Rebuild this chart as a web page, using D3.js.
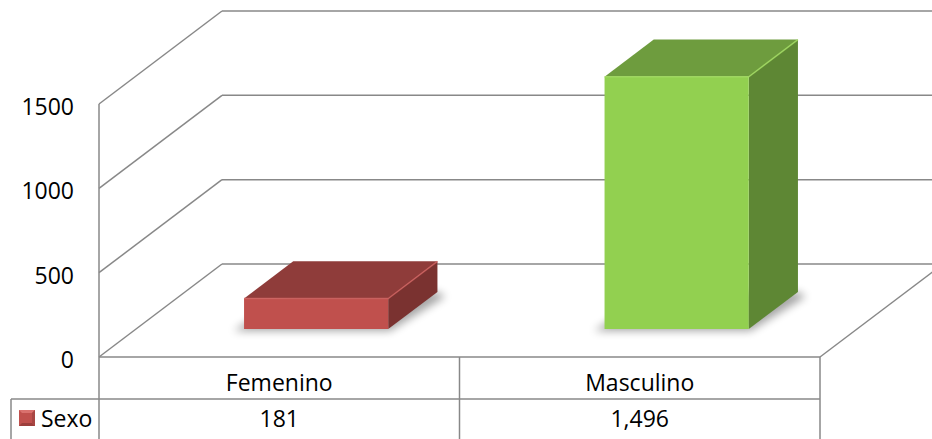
<!DOCTYPE html>
<html>
<head>
<meta charset="utf-8">
<script src="https://cdn.jsdelivr.net/npm/d3@7"></script>
<style>
  body { margin: 0; background: #fff; }
  text { font-family: "Open Sans", sans-serif; fill: #000; }
</style>
</head>
<body>
<svg id="chart" width="932" height="439"></svg>
<script>
const categories = ["Femenino", "Masculino"];
const values = [181, 1496];
const valueLabels = ["181", "1,496"];
const seriesName = "Sexo";
const tickValues = [0, 500, 1000, 1500];

const svg = d3.select("#chart");
const fontSize = 23;

// oblique depth offset of the 3D box
const DX = 123, DY = -93;
const barZ = [0.3, 0.7];
const gridColor = "#888888";

const y = d3.scaleLinear().domain([0, 1500]).range([357, 104]);
const x = d3.scaleBand().domain(categories).range([99, 820]);
const barW = x.bandwidth() * 0.4;

const colors = [
    { front: "#c0504d", top: "#8f3c3a", side: "#7a3230", edge: "#cf625f" },
    { front: "#92d050", top: "#6e9c3e", side: "#5e8734", edge: "#a2dc62" }
];

function proj(px, v, z) {
    return [px + z * DX, y(v) + z * DY];
}
function pts(list) {
    return list.map(p => p.join(",")).join(" ");
}

const defs = svg.append("defs");
defs.append("filter").attr("id", "blur")
    .attr("x", "-30%").attr("y", "-30%").attr("width", "160%").attr("height", "160%")
    .append("feGaussianBlur").attr("stdDeviation", 4);

const grid = svg.append("g");

// left wall lines and back wall lines
tickValues.forEach(v => {
    const f = proj(x.range()[0], v, 0);
    const b = proj(x.range()[0], v, 1);
    const br = proj(x.range()[1], v, 1);
    grid.append("line")
        .attr("x1", f[0]).attr("y1", f[1]).attr("x2", b[0]).attr("y2", b[1])
        .attr("stroke", gridColor).attr("stroke-width", 1.5);
    grid.append("line")
        .attr("x1", b[0]).attr("y1", b[1]).attr("x2", br[0]).attr("y2", br[1])
        .attr("stroke", gridColor).attr("stroke-width", 1.5);
});

// floor right edge
const fr = proj(x.range()[1], 0, 0), brr = proj(x.range()[1], 0, 1);
grid.append("line")
    .attr("x1", fr[0]).attr("y1", fr[1]).attr("x2", brr[0]).attr("y2", brr[1])
    .attr("stroke", gridColor).attr("stroke-width", 1.5);

// y axis labels
svg.append("g").selectAll("text")
    .data(tickValues)
    .join("text")
    .attr("x", 74)
    .attr("y", d => y(d) + 2)
    .attr("text-anchor", "end")
    .attr("dominant-baseline", "central")
    .attr("font-size", fontSize)
    .text(d => d);

// bars
const bars = svg.append("g");
categories.forEach((c, i) => {
    const x0 = x(c) + (x.bandwidth() - barW) / 2;
    const x1 = x0 + barW;
    const v = values[i];
    const col = colors[i];
    const z0 = barZ[0], z1 = barZ[1];

    // soft shadow on the floor
    bars.append("polygon")
        .attr("points", pts([proj(x0 - 8, 0, z0 - 0.02), proj(x1 + 4, 0, z0 - 0.02), proj(x1 + 14, 0, z1 - 0.05), proj(x1, 0, z1), proj(x0, 0, z1)]))
        .attr("fill", "#000").attr("opacity", 0.35).attr("filter", "url(#blur)");

    const top = [proj(x0, v, z0), proj(x1, v, z0), proj(x1, v, z1), proj(x0, v, z1)];
    const side = [proj(x1, 0, z0), proj(x1, v, z0), proj(x1, v, z1), proj(x1, 0, z1)];
    const front = [proj(x0, 0, z0), proj(x1, 0, z0), proj(x1, v, z0), proj(x0, v, z0)];

    bars.append("polygon").attr("points", pts(side)).attr("fill", col.side);
    bars.append("polygon").attr("points", pts(top)).attr("fill", col.top);
    bars.append("polygon").attr("points", pts(front)).attr("fill", col.front);
    // light bevel edges
    bars.append("polyline")
        .attr("points", pts([proj(x0, v, z0), proj(x1, v, z0), proj(x1, v, z1)]))
        .attr("fill", "none").attr("stroke", col.edge).attr("stroke-width", 1.5).attr("opacity", 0.8);
});

// front axis line and data table
const table = svg.append("g");
const rowTop = y(0), rowMid = 399, rowBot = 445;
const tableLines = [
    [x.range()[0], y(1500), x.range()[0], rowBot],
    [x.range()[0], rowTop, x.range()[1], rowTop],
    [11, rowMid, x.range()[1], rowMid],
    [11, rowMid, 11, rowBot],
    [x.range()[1], rowTop, x.range()[1], rowBot]
];
categories.slice(1).forEach(c => tableLines.push([x(c), rowTop, x(c), rowBot]));
table.selectAll("line")
    .data(tableLines)
    .join("line")
    .attr("x1", d => d[0]).attr("y1", d => d[1])
    .attr("x2", d => d[2]).attr("y2", d => d[3])
    .attr("stroke", gridColor).attr("stroke-width", 1.5);

table.selectAll("text.cat")
    .data(categories)
    .join("text")
    .attr("class", "cat")
    .attr("x", d => x(d) + x.bandwidth() / 2)
    .attr("y", 391)
    .attr("text-anchor", "middle")
    .attr("font-size", fontSize)
    .text(d => d);

table.selectAll("text.val")
    .data(valueLabels)
    .join("text")
    .attr("class", "val")
    .attr("x", (d, i) => x(categories[i]) + x.bandwidth() / 2)
    .attr("y", 427)
    .attr("text-anchor", "middle")
    .attr("font-size", fontSize)
    .text(d => d);

// legend key
const key = table.append("g").attr("transform", "translate(19,410)");
key.append("rect").attr("width", 16).attr("height", 16).attr("fill", colors[0].front);
key.append("polygon").attr("points", "0,0 16,0 8,8").attr("fill", "#d9716e");
key.append("polygon").attr("points", "0,16 16,16 8,8").attr("fill", "#9c3f3c");
key.append("polygon").attr("points", "16,0 16,16 8,8").attr("fill", "#a84643");
key.append("rect").attr("x", 3).attr("y", 3).attr("width", 10).attr("height", 10).attr("fill", colors[0].front);
table.append("text")
    .attr("x", 41).attr("y", 427)
    .attr("font-size", fontSize)
    .text(seriesName);
</script>
</body>
</html>
